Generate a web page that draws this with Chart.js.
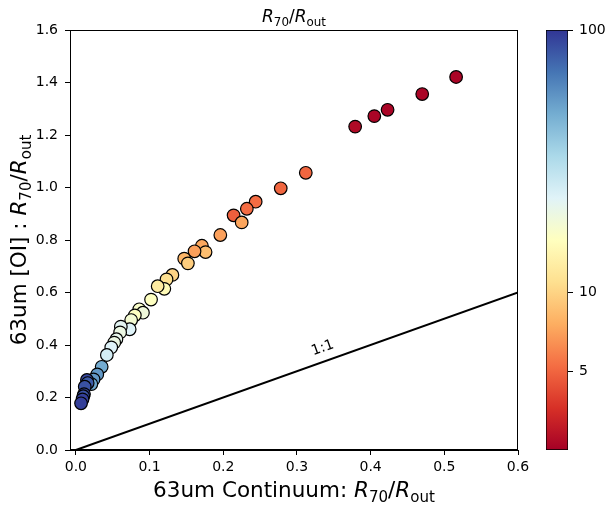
<!DOCTYPE html>
<html>
<head>
<meta charset="utf-8">
<script src="https://cdn.jsdelivr.net/npm/chart.js@4/dist/chart.umd.min.js"></script>
<style>
  html, body { margin: 0; padding: 0; background: #fff; }
  #wrap { position: relative; width: 613px; height: 505px; }
  #main-chart { position: absolute; left: 0; top: 0; }
  #cbar-chart { position: absolute; left: 540px; top: 0; }
</style>
</head>
<body>
<div id="wrap">
  <canvas id="main-chart" width="613" height="505"></canvas>
  <canvas id="cbar-chart" width="73" height="505"></canvas>
</div>
<script>
// --- DATA ---
const xVals = [0.516, 0.470, 0.423, 0.405, 0.379, 0.312, 0.278, 0.244, 0.232, 0.214,
  0.225, 0.196, 0.171, 0.176, 0.161, 0.147, 0.152, 0.131, 0.123, 0.120,
  0.111, 0.102, 0.086, 0.091, 0.080, 0.075, 0.073, 0.061, 0.060, 0.055,
  0.052, 0.048, 0.042, 0.035, 0.029, 0.024, 0.021, 0.015, 0.016, 0.012,
  0.011, 0.010, 0.009, 0.007];
const yVals = [1.421, 1.356, 1.296, 1.272, 1.232, 1.056, 0.997, 0.946, 0.919, 0.894,
  0.867, 0.819, 0.778, 0.754, 0.757, 0.729, 0.711, 0.667, 0.650, 0.614,
  0.624, 0.573, 0.536, 0.523, 0.513, 0.495, 0.460, 0.470, 0.448, 0.422,
  0.409, 0.391, 0.362, 0.317, 0.288, 0.269, 0.251, 0.267, 0.255, 0.241,
  0.213, 0.205, 0.193, 0.178];
// colour values (R70/Rout), log colour scale
const colorVals = [2.6, 2.6, 2.6, 2.6, 2.7, 5.0, 5.0, 5.2, 5.2, 4.8,
  7.2, 7.0, 7.3, 8.5, 7.0, 8.0, 9.5, 10, 11, 15,
  12.5, 16, 17, 19, 16, 18, 23, 22, 20, 21,
  20, 23, 25, 48, 55, 55, 50, 90, 80, 85,
  90, 85, 95, 95];

const oneToOne = [0, 0.6];
const xTicks = [0, 0.1, 0.2, 0.3, 0.4, 0.5, 0.6];
const yTicks = [0, 0.2, 0.4, 0.6, 0.8, 1.0, 1.2, 1.4, 1.6];
const cbTicks = [5, 10, 100];
const cbMin = 2.5;
const cbMax = 100;

// RdYlBu colormap stops
const rdylbu = ['#a50026', '#d73027', '#f46d43', '#fdae61', '#fee090', '#ffffbf',
  '#e0f3f8', '#abd9e9', '#74add1', '#4575b4', '#313695'];

function hexToRgb(h) {
  return [parseInt(h.slice(1, 3), 16), parseInt(h.slice(3, 5), 16), parseInt(h.slice(5, 7), 16)];
}

function cmap(v) {
  let t = Math.log(v / cbMin) / Math.log(cbMax / cbMin);
  t = Math.max(0, Math.min(1, t));
  const pos = t * (rdylbu.length - 1);
  const i = Math.min(Math.floor(pos), rdylbu.length - 2);
  const f = pos - i;
  const a = hexToRgb(rdylbu[i]);
  const b = hexToRgb(rdylbu[i + 1]);
  const c = a.map((ch, k) => Math.round(ch + (b[k] - ch) * f));
  return 'rgb(' + c.join(',') + ')';
}

const FONT = '"DejaVu Sans", sans-serif';
const TICK_SIZE = 14;

// --- RICH TEXT (mathtext-like subscripts) ---
function drawRich(ctx, parts, x, y, size, rotation) {
  ctx.save();
  ctx.translate(x, y);
  ctx.rotate(rotation || 0);
  ctx.fillStyle = '#000';
  ctx.textBaseline = 'alphabetic';
  ctx.textAlign = 'left';
  const fontFor = p => {
    const s = p.sub ? size * 0.7 : size;
    return (p.it ? 'italic ' : '') + s + 'px ' + FONT;
  };
  let total = 0;
  parts.forEach(p => { ctx.font = fontFor(p); total += ctx.measureText(p.t).width; });
  let cx = -total / 2;
  parts.forEach(p => {
    ctx.font = fontFor(p);
    ctx.fillText(p.t, cx, p.sub ? size * 0.22 : 0);
    cx += ctx.measureText(p.t).width;
  });
  ctx.restore();
}

const ratioParts = [
  { t: 'R', it: true }, { t: '70', sub: true }, { t: '/' },
  { t: 'R', it: true }, { t: 'out', sub: true }
];

const labelsPlugin = {
  id: 'labels',
  afterDatasetsDraw(chart) {
    const { ctx, chartArea: a, scales } = chart;
    // full box spines
    ctx.save();
    ctx.strokeStyle = '#000';
    ctx.lineWidth = 1;
    ctx.strokeRect(Math.round(a.left) + 0.5, Math.round(a.top) + 0.5,
      Math.round(a.right - a.left) - 1, Math.round(a.bottom - a.top) - 1);
    ctx.restore();

    const midX = (a.left + a.right) / 2;
    const midY = (a.top + a.bottom) / 2;
    drawRich(ctx, ratioParts, midX, 22, 17, 0);
    drawRich(ctx, [{ t: '63um Continuum: ' }].concat(ratioParts), midX, 497, 21.5, 0);
    drawRich(ctx, [{ t: '63um [OI] : ' }].concat(ratioParts), 26, midY, 21.5, -Math.PI / 2);

    // 1:1 label along the line
    const px = scales.x.getPixelForValue(0.335);
    const py = scales.y.getPixelForValue(0.388);
    const ang = Math.atan2(scales.y.getPixelForValue(0.6) - scales.y.getPixelForValue(0),
      scales.x.getPixelForValue(0.6) - scales.x.getPixelForValue(0));
    ctx.save();
    ctx.translate(px, py);
    ctx.rotate(ang);
    ctx.font = '14px ' + FONT;
    ctx.fillStyle = '#000';
    ctx.textAlign = 'center';
    ctx.textBaseline = 'middle';
    ctx.fillText('1:1', 0, 0);
    ctx.restore();
  }
};

// --- MAIN SCATTER CHART ---
const points = xVals.map((x, i) => ({ x: x, y: yVals[i] }));

const axisStyle = {
  grid: { display: true, drawOnChartArea: false, drawTicks: true, tickLength: 5, color: '#000' },
  border: { display: true, color: '#000', width: 1 }
};

new Chart(document.getElementById('main-chart'), {
  type: 'scatter',
  data: {
    datasets: [
      {
        label: 'sources',
        data: points,
        pointRadius: 6.3,
        pointHoverRadius: 6.3,
        pointBackgroundColor: colorVals.map(cmap),
        pointBorderColor: '#000',
        pointBorderWidth: 1.2
      },
      {
        type: 'line',
        label: '1:1',
        data: oneToOne.map(v => ({ x: v, y: v })),
        borderColor: '#000',
        borderWidth: 2,
        pointRadius: 0,
        fill: false
      }
    ]
  },
  options: {
    responsive: false,
    animation: false,
    devicePixelRatio: 1,
    layout: { padding: { left: 0, right: 95, top: 30, bottom: 0 } },
    plugins: { legend: { display: false }, tooltip: { enabled: false } },
    scales: {
      x: {
        type: 'linear',
        min: -0.008,
        max: 0.6,
        ...axisStyle,
        afterBuildTicks: axis => { axis.ticks = xTicks.map(v => ({ value: v })); },
        afterFit: axis => { axis.height = 55; },
        ticks: { color: '#000', font: { family: FONT, size: TICK_SIZE }, padding: 4, maxRotation: 0,
          callback: v => Number(v).toFixed(1) }
      },
      y: {
        type: 'linear',
        min: 0,
        max: 1.6,
        ...axisStyle,
        afterBuildTicks: axis => { axis.ticks = yTicks.map(v => ({ value: v })); },
        afterFit: axis => { axis.width = 70; },
        ticks: { color: '#000', font: { family: FONT, size: TICK_SIZE }, padding: 7,
          callback: v => Number(v).toFixed(1) }
      }
    }
  },
  plugins: [labelsPlugin]
});

// --- COLORBAR ---
new Chart(document.getElementById('cbar-chart'), {
  type: 'bar',
  data: {
    labels: [''],
    datasets: [{
      data: [[cbMin, cbMax]],
      backgroundColor: c => {
        const area = c.chart.chartArea;
        if (!area) return null;
        const g = c.chart.ctx.createLinearGradient(0, area.bottom, 0, area.top);
        rdylbu.forEach((col, i) => g.addColorStop(i / (rdylbu.length - 1), col));
        return g;
      },
      borderColor: '#000',
      borderWidth: 1,
      borderSkipped: false,
      barPercentage: 1,
      categoryPercentage: 1
    }]
  },
  options: {
    responsive: false,
    animation: false,
    devicePixelRatio: 1,
    layout: { padding: { left: 6, right: 0, top: 30, bottom: 55 } },
    plugins: { legend: { display: false }, tooltip: { enabled: false } },
    scales: {
      x: { display: false },
      y: {
        type: 'logarithmic',
        position: 'right',
        min: cbMin,
        max: cbMax,
        grid: { display: true, drawOnChartArea: false, drawTicks: true, tickLength: 5, color: '#000' },
        border: { display: false },
        afterBuildTicks: axis => { axis.ticks = cbTicks.map(v => ({ value: v })); },
        afterFit: axis => { axis.width = 45; },
        ticks: { color: '#000', font: { family: FONT, size: TICK_SIZE }, padding: 6,
          callback: v => String(v) }
      }
    }
  }
});
</script>
</body>
</html>
